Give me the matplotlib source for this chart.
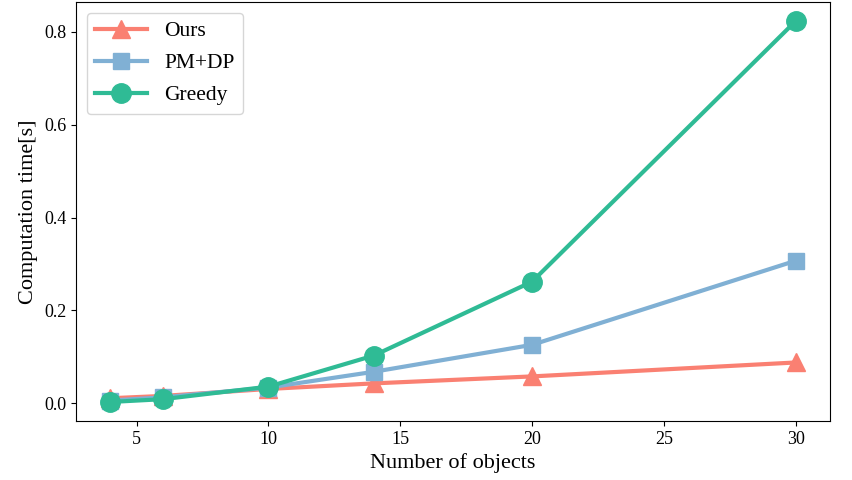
import matplotlib
matplotlib.use("Agg")
import matplotlib.pyplot as plt

plt.rcParams['font.family'] = ['Liberation Serif', 'DejaVu Serif']
plt.rcParams['mathtext.fontset'] = 'stix'

# Data
num_objects = [4, 6, 10, 14, 20, 30]
ours = [0.011, 0.016, 0.031, 0.043, 0.058, 0.088]
pm_dp = [0.006, 0.013, 0.034, 0.068, 0.126, 0.307]
greedy = [0.003, 0.009, 0.036, 0.103, 0.262, 0.823]

fig = plt.figure(figsize=(8.52, 4.8), dpi=100)
ax = fig.add_axes([0.0892, 0.1229, 0.885, 0.873])

ax.plot(num_objects, ours, marker='^', color='#fa8072', lw=3, ms=13, label='Ours')
ax.plot(num_objects, pm_dp, marker='s', color='#80b0d4', lw=3, ms=12, label='PM+DP')
ax.plot(num_objects, greedy, marker='o', color='#2fbb95', lw=3, ms=14, label='Greedy')

ax.set_xlabel('Number of objects', fontsize=16)
ax.set_ylabel('Computation time[s]', fontsize=16)
ax.tick_params(labelsize=13)
ax.set_xticks([5, 10, 15, 20, 25, 30])
ax.set_yticks([0.0, 0.2, 0.4, 0.6, 0.8])
ax.legend(fontsize=15.5, loc='upper left', handlelength=2.4, labelspacing=0.55)

fig.savefig('out.png', dpi=100)
